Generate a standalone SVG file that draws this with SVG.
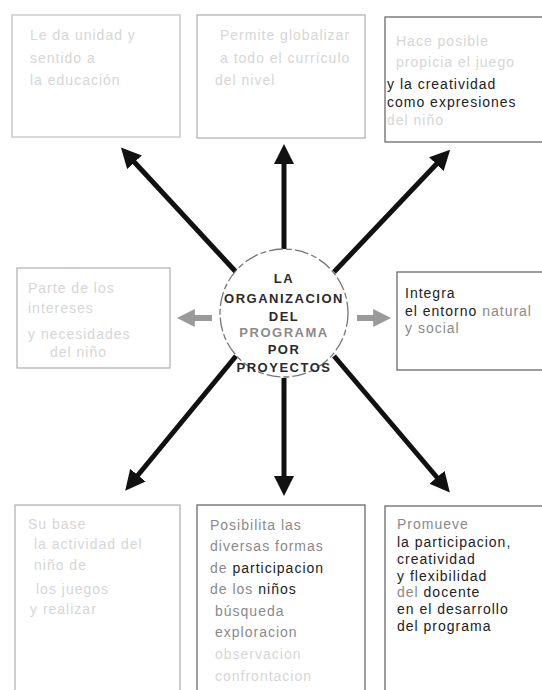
<svg xmlns="http://www.w3.org/2000/svg" width="542" height="690" viewBox="0 0 542 690">
<defs>
<style>
.box{fill:#fff;stroke:#6a6a6a;stroke-width:1.3}
.t{font-family:"Liberation Sans",Arial,sans-serif;font-size:14px;letter-spacing:1px;fill:#222}
.f{fill:#d6d6d6}
.m{fill:#8a8a8a}
.c{font-family:"Liberation Sans",Arial,sans-serif;font-size:13px;font-weight:bold;letter-spacing:1.5px;fill:#2a2a2a;text-anchor:middle}
.arr{stroke:#111;stroke-width:5;fill:none;marker-end:url(#ah)}
.garr{stroke:#9a9a9a;stroke-width:6;fill:none;marker-end:url(#gh)}
</style>
<marker id="ah" viewBox="0 0 10 10" refX="7" refY="5" markerWidth="4" markerHeight="4" orient="auto" markerUnits="strokeWidth">
<path d="M0,0 L10,5 L0,10 Z" fill="#111"/>
</marker>
<marker id="gh" viewBox="0 0 10 10" refX="6" refY="5" markerWidth="3" markerHeight="3.2" orient="auto" markerUnits="strokeWidth">
<path d="M0,0 L10,5 L0,10 Z" fill="#9a9a9a"/>
</marker>
</defs>
<rect width="542" height="690" fill="#fff"/>

<g id="connectors">
<line class="arr" x1="236" y1="272" x2="125" y2="152"/>
<line class="arr" x1="284" y1="250" x2="284" y2="150"/>
<line class="arr" x1="334" y1="272" x2="446" y2="154"/>
<line class="arr" x1="236" y1="356" x2="129" y2="486"/>
<line class="arr" x1="284" y1="378" x2="284" y2="490"/>
<line class="arr" x1="334" y1="356" x2="446" y2="488"/>
<line class="garr" x1="212" y1="318" x2="184" y2="318"/>
<line class="garr" x1="357" y1="318" x2="384" y2="318"/>
</g>

<g id="center">
<circle cx="284" cy="313" r="64" fill="#fff" stroke="#777" stroke-width="1.3" stroke-dasharray="14 3 6 3"/>
<text class="c" x="284" y="283">LA</text>
<text class="c" x="284" y="303">ORGANIZACION</text>
<text class="c" x="284" y="321">DEL</text>
<text class="c" x="284" y="337" style="fill:#8a8a8a">PROGRAMA</text>
<text class="c" x="284" y="354">POR</text>
<text class="c" x="284" y="372">PROYECTOS</text>
</g>

<g id="box-top-left">
<rect class="box" x="12" y="15" width="168" height="122" style="stroke:#c4c4c4"/>
<text class="t f" x="30" y="40">Le da unidad y</text>
<text class="t f" x="30" y="63">sentido a</text>
<text class="t f" x="30" y="85">la educación</text>
</g>

<g id="box-top-middle">
<rect class="box" x="197" y="15" width="168" height="123" style="stroke:#b4b4b4"/>
<text class="t f" x="220" y="40">Permite globalizar</text>
<text class="t f" x="220" y="63">a todo el currículo</text>
<text class="t f" x="215" y="85">del nivel</text>
</g>

<g id="box-top-right">
<rect class="box" x="385" y="17" width="170" height="125"/>
<text class="t f" x="396" y="46">Hace posible</text>
<text class="t f" x="396" y="67">propicia el juego</text>
<text class="t" x="387" y="89">y la creatividad</text>
<text class="t" x="387" y="107">como expresiones</text>
<text class="t f" x="387" y="125">del niño</text>
</g>

<g id="box-mid-left">
<rect class="box" x="17" y="268" width="153" height="100" style="stroke:#b4b4b4"/>
<text class="t f" x="28" y="293">Parte de los</text>
<text class="t f" x="28" y="313">intereses</text>
<text class="t f" x="28" y="339">y necesidades</text>
<text class="t f" x="50" y="357">del niño</text>
</g>

<g id="box-mid-right">
<rect class="box" x="397" y="272" width="160" height="98"/>
<text class="t" x="405" y="298">Integra</text>
<text class="t" x="405" y="316">el entorno <tspan class="m">natural</tspan></text>
<text class="t m" x="405" y="333">y social</text>
</g>

<g id="box-bottom-left">
<rect class="box" x="15" y="505" width="165" height="200" style="stroke:#b4b4b4"/>
<text class="t f" x="28" y="529">Su base</text>
<text class="t f" x="34" y="549">la actividad del</text>
<text class="t f" x="34" y="570">niño de</text>
<text class="t f" x="36" y="594">los juegos</text>
<text class="t f" x="30" y="614">y realizar</text>
</g>

<g id="box-bottom-middle">
<rect class="box" x="197" y="505" width="168" height="200"/>
<text class="t m" x="210" y="530">Posibilita las</text>
<text class="t m" x="210" y="551">diversas formas</text>
<text class="t" x="210" y="573"><tspan class="m">de</tspan> participacion</text>
<text class="t" x="210" y="594"><tspan class="m">de los</tspan> niños</text>
<text class="t m" x="215" y="616">búsqueda</text>
<text class="t m" x="215" y="637">exploracion</text>
<text class="t f" x="215" y="659">observacion</text>
<text class="t f" x="215" y="681">confrontacion</text>
</g>

<g id="box-bottom-right">
<rect class="box" x="385" y="506" width="170" height="200"/>
<text class="t m" x="397" y="529">Promueve</text>
<text class="t" x="397" y="547">la participacion,</text>
<text class="t" x="397" y="564">creatividad</text>
<text class="t" x="397" y="581">y flexibilidad</text>
<text class="t" x="397" y="597"><tspan class="m">del</tspan> docente</text>
<text class="t" x="397" y="614">en el desarrollo</text>
<text class="t" x="397" y="631">del programa</text>
</g>
</svg>
